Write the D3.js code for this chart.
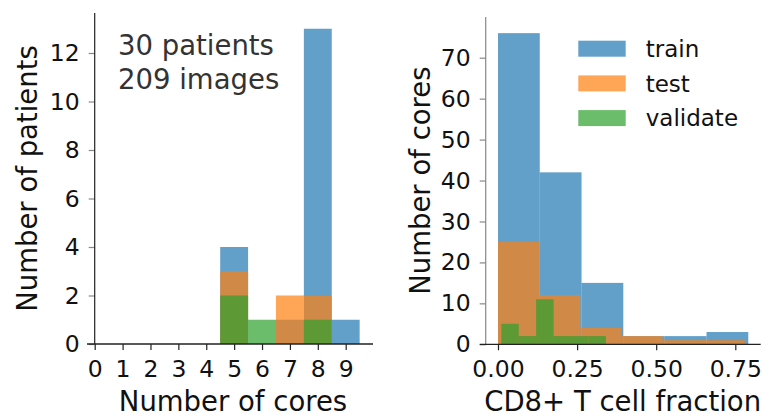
<!DOCTYPE html>
<html>
<head>
<meta charset="utf-8">
<script src="https://cdn.jsdelivr.net/npm/d3@7"></script>
<style>
  body { margin: 0; background: #fff; }
  svg text { font-family: "DejaVu Sans", sans-serif; }
</style>
</head>
<body>
<div id="chart"></div>
<script>
// left panel: patients per number of cores
let coreNumbers = [5, 6, 7, 8, 9];
let trainPatients = [4, 0, 1, 13, 1];
let testPatients = [3, 0, 2, 2, 0];
let validatePatients = [2, 1, 0, 1, 0];
let leftXTicks = [0, 1, 2, 3, 4, 5, 6, 7, 8, 9];
let leftYTicks = [0, 2, 4, 6, 8, 10, 12];

// right panel: cores per CD8+ T cell fraction bin
let trainEdges = [0, 0.132, 0.264, 0.396, 0.527, 0.659, 0.791];
let trainCores = [76, 42, 15, 2, 2, 3];
let testEdges = [0, 0.13, 0.26, 0.39, 0.52, 0.65, 0.78];
let testCores = [25, 12, 4, 2, 1, 1];
let validateEdges = [0.0104, 0.0655, 0.1206, 0.1757, 0.2308, 0.2859, 0.341];
let validateCores = [5, 2, 11, 2, 2, 2];
let rightXTicks = [0, 0.25, 0.5, 0.75];
let rightYTicks = [0, 10, 20, 30, 40, 50, 60, 70];

let seriesNames = ["train", "test", "validate"];
let colors = ["#1f77b4", "#ff7f0e", "#2ca02c"];

let W = 766, H = 415;
let svg = d3.select("#chart").append("svg")
    .attr("width", W)
    .attr("height", H);

function drawPanel(opt) {
    let g = svg.append("g");

    // bars, one layer per series, drawn on top of each other
    opt.series.forEach((s, si) => {
        g.selectAll(".bar" + si)
            .data(s)
            .join("rect")
            .attr("x", d => opt.x(d.x0))
            .attr("width", d => opt.x(d.x1) - opt.x(d.x0))
            .attr("y", d => opt.y(d.v))
            .attr("height", d => opt.y(0) - opt.y(d.v))
            .attr("fill", colors[si])
            .attr("fill-opacity", 0.7);
    });

    // x axis
    let xa = g.append("g")
        .attr("transform", `translate(0,${opt.y(0)})`)
        .call(d3.axisBottom(opt.x).tickValues(opt.xTicks).tickFormat(opt.xFormat).tickSize(6).tickPadding(10));
    xa.select(".domain").remove();
    xa.selectAll("line").attr("stroke", "#222").attr("stroke-width", 1.2);
    xa.selectAll("text").attr("font-size", 23.5).attr("fill", "#111").attr("dy", "0.71em");

    // y axis
    let ya = g.append("g")
        .attr("transform", `translate(${opt.spineX},0)`)
        .call(d3.axisLeft(opt.y).tickValues(opt.yTicks).tickSize(6).tickPadding(9));
    ya.select(".domain").remove();
    ya.selectAll("line").attr("stroke", "#888").attr("stroke-width", 1.2);
    ya.selectAll("text").attr("font-size", 23.5).attr("fill", "#111");

    // spines
    g.append("line")
        .attr("x1", opt.spineX).attr("x2", opt.spineX)
        .attr("y1", opt.top).attr("y2", opt.y(0))
        .attr("stroke", opt.leftSpineColor).attr("stroke-width", 1.2);
    g.append("line")
        .attr("x1", opt.bottomFrom).attr("x2", opt.bottomTo)
        .attr("y1", opt.y(0)).attr("y2", opt.y(0))
        .attr("stroke", "#222").attr("stroke-width", 1.3);

    // axis labels
    g.append("text")
        .attr("x", opt.xLabelX).attr("y", 410.5)
        .attr("text-anchor", "middle")
        .attr("font-size", 27.5)
        .attr("fill", "#111")
        .text(opt.xLabel);
    g.append("text")
        .attr("transform", `translate(${opt.yLabelX},${(opt.top + opt.y(0)) / 2}) rotate(-90)`)
        .attr("text-anchor", "middle")
        .attr("font-size", 27.5)
        .attr("fill", "#111")
        .text(opt.yLabel);
    return g;
}

// left panel
let xL = d3.scaleLinear().domain([0, 9]).range([94.7, 345.7]);
let yL = d3.scaleLinear().domain([0, 12]).range([344, 53]);
let leftSeries = [trainPatients, testPatients, validatePatients].map(arr =>
    arr.map((v, i) => ({x0: coreNumbers[i] - 0.5, x1: coreNumbers[i] + 0.5, v: v})).filter(d => d.v > 0)
);
let left = drawPanel({
    x: xL, y: yL, series: leftSeries,
    xTicks: leftXTicks, yTicks: leftYTicks, xFormat: d3.format("d"),
    spineX: 94.7, top: 13, bottomFrom: 87, bottomTo: 373,
    leftSpineColor: "#222",
    xLabel: "Number of cores", xLabelX: 233,
    yLabel: "Number of patients", yLabelX: 37
});
left.append("text")
    .attr("x", 118).attr("y", 55)
    .attr("font-size", 27.5).attr("fill", "#333")
    .text("30 patients");
left.append("text")
    .attr("x", 118).attr("y", 88.5)
    .attr("font-size", 27.5).attr("fill", "#333")
    .text("209 images");

// right panel
let xR = d3.scaleLinear().domain([0, 0.75]).range([498, 735.3]);
let yR = d3.scaleLinear().domain([0, 70]).range([344.3, 57.7]);
let rightSeries = [[trainEdges, trainCores], [testEdges, testCores], [validateEdges, validateCores]].map(([e, c]) =>
    c.map((v, i) => ({x0: e[i], x1: e[i + 1], v: v}))
);
let right = drawPanel({
    x: xR, y: yR, series: rightSeries,
    xTicks: rightXTicks, yTicks: rightYTicks, xFormat: d3.format(".2f"),
    spineX: 485.7, top: 17, bottomFrom: 479.7, bottomTo: 760.7,
    leftSpineColor: "#888",
    xLabel: "CD8+ T cell fraction", xLabelX: 622.7,
    yLabel: "Number of cores", yLabelX: 429.5
});

// legend
let legend = right.append("g").attr("transform", "translate(578.3,40.7)");
seriesNames.forEach((name, i) => {
    legend.append("rect")
        .attr("x", 0).attr("y", i * 34.7)
        .attr("width", 47.4).attr("height", 16)
        .attr("fill", colors[i]).attr("fill-opacity", 0.7);
    legend.append("text")
        .attr("x", 67.4).attr("y", i * 34.7 + 16.3)
        .attr("font-size", 23).attr("fill", "#111")
        .text(name);
});
</script>
</body>
</html>
